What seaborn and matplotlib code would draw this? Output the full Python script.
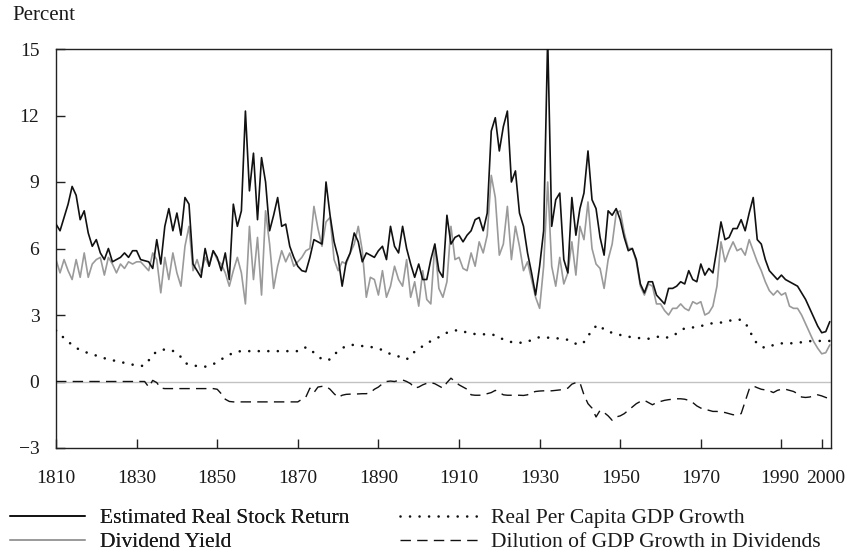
import matplotlib
matplotlib.use("Agg")
import matplotlib.pyplot as plt
import matplotlib.transforms as mtransforms
import seaborn as sns

# Annual observations, 1810-2002 (percent)
years = list(range(1810, 2003))

stock_return = [
    7.1, 6.8, 7.4, 8.0, 8.8, 8.4, 7.3, 7.7, 6.7, 6.1,      # 1810s
    6.4, 5.8, 5.5, 6.0, 5.4, 5.5, 5.6, 5.8, 5.6, 5.9,      # 1820s
    5.9, 5.5, 5.45, 5.4, 5.1, 6.4, 5.3, 7.0, 7.8, 6.8,     # 1830s
    7.6, 6.6, 8.3, 8.0, 5.3, 5.0, 4.7, 6.0, 5.2, 5.9,      # 1840s
    5.6, 5.0, 5.8, 4.6, 8.0, 7.0, 7.7, 12.2, 8.6, 10.3,    # 1850s
    7.3, 10.1, 9.0, 6.8, 7.5, 8.3, 7.0, 7.1, 6.1, 5.6,     # 1860s
    5.2, 5.0, 4.95, 5.6, 6.4, 6.3, 6.2, 9.0, 7.5, 6.3,     # 1870s
    5.6, 4.3, 5.4, 5.8, 6.7, 6.3, 5.4, 5.8, 5.7, 5.6,      # 1880s
    5.9, 6.1, 5.5, 7.0, 6.1, 5.8, 7.0, 6.0, 5.3, 4.7,      # 1890s
    5.3, 4.6, 4.6, 5.5, 6.2, 5.0, 4.7, 7.5, 6.2, 6.5,      # 1900s
    6.6, 6.3, 6.6, 6.8, 7.3, 7.4, 6.8, 7.6, 11.3, 11.9,    # 1910s
    10.4, 11.5, 12.2, 9.0, 9.5, 7.6, 7.0, 5.8, 4.9, 3.9,   # 1920s
    5.2, 6.8, 15.5, 7.0, 8.2, 8.5, 5.5, 4.9, 8.3, 6.6,     # 1930s
    7.8, 8.5, 10.4, 8.2, 7.8, 6.5, 5.7, 7.7, 7.5, 7.8,     # 1940s
    7.3, 6.5, 5.9, 6.0, 5.5, 4.4, 4.0, 4.5, 4.5, 3.9,      # 1950s
    3.7, 3.5, 4.2, 4.2, 4.3, 4.5, 4.4, 5.0, 4.6, 4.5,      # 1960s
    5.3, 4.8, 5.1, 4.9, 6.0, 7.2, 6.4, 6.5, 6.9, 6.9,      # 1970s
    7.3, 6.8, 7.6, 8.3, 6.4, 6.2, 5.5, 5.0, 4.8, 4.6,      # 1980s
    4.8, 4.6, 4.5, 4.4, 4.3, 4.0, 3.7, 3.3, 2.9, 2.5,      # 1990s
    2.2, 2.25, 2.7,                                        # 2000-2002
]

dividend_yield = [
    5.5, 4.9, 5.5, 5.0, 4.6, 5.5, 4.7, 5.8, 4.7, 5.3,      # 1810s
    5.5, 5.6, 4.8, 5.6, 5.3, 4.9, 5.3, 5.1, 5.4, 5.3,      # 1820s
    5.4, 5.4, 5.2, 5.0, 5.8, 5.5, 4.0, 5.6, 4.6, 5.8,      # 1830s
    4.9, 4.3, 6.1, 7.0, 5.0, 5.5, 4.9, 5.6, 5.2, 5.9,      # 1840s
    5.5, 5.3, 4.9, 4.3, 5.0, 5.6, 4.9, 3.5, 7.0, 4.6,      # 1850s
    6.5, 3.9, 7.7, 6.2, 4.2, 5.2, 5.9, 5.4, 5.8, 5.2,      # 1860s
    5.4, 5.6, 5.9, 6.0, 7.9, 6.9, 6.1, 7.2, 7.4, 5.5,      # 1870s
    5.0, 5.4, 5.3, 5.8, 6.2, 7.0, 5.9, 3.8, 4.7, 4.6,      # 1880s
    3.9, 5.0, 3.8, 4.3, 5.2, 4.6, 4.3, 5.5, 3.8, 4.5,      # 1890s
    3.4, 5.0, 3.7, 3.5, 6.2, 4.2, 3.8, 4.5, 7.0, 5.5,      # 1900s
    5.6, 5.1, 5.0, 5.8, 5.2, 6.3, 5.8, 6.6, 9.3, 8.3,      # 1910s
    5.7, 6.2, 7.9, 5.5, 7.0, 6.1, 5.0, 5.4, 4.6, 3.8,      # 1920s
    3.3, 5.2, 9.0, 5.2, 4.3, 5.6, 4.4, 4.9, 6.3, 4.8,      # 1930s
    7.0, 6.4, 8.1, 6.0, 5.3, 5.1, 4.2, 5.5, 6.2, 7.6,      # 1940s
    7.7, 6.7, 6.0, 6.0, 5.4, 4.3, 3.9, 4.4, 4.3, 3.5,      # 1950s
    3.5, 3.2, 3.0, 3.3, 3.3, 3.5, 3.3, 3.2, 3.6, 3.5,      # 1960s
    3.6, 3.0, 3.1, 3.4, 4.3, 6.3, 5.4, 5.9, 6.3, 5.9,      # 1970s
    6.0, 5.7, 6.4, 5.9, 5.4, 5.0, 4.5, 4.1, 3.9, 4.1,      # 1980s
    3.9, 4.0, 3.4, 3.3, 3.3, 3.0, 2.6, 2.2, 1.8, 1.5,      # 1990s
    1.25, 1.3, 1.65,                                       # 2000-2002
]

gdp_growth = [
    2.3, 2.15, 1.95, 1.8, 1.65, 1.52, 1.42, 1.35, 1.28, 1.22,
    1.17, 1.1, 1.05, 1.0, 0.96, 0.92, 0.88, 0.84, 0.8, 0.76,
    0.73, 0.7, 0.72, 0.95, 1.2, 1.35, 1.4, 1.45, 1.45, 1.38,
    1.3, 1.1, 0.85, 0.75, 0.72, 0.7, 0.68, 0.67, 0.7, 0.78,
    0.88, 1.0, 1.1, 1.2, 1.3, 1.35, 1.37, 1.37, 1.37, 1.37,
    1.37, 1.37, 1.37, 1.37, 1.37, 1.37, 1.37, 1.37, 1.37, 1.37,
    1.37, 1.4, 1.55, 1.45, 1.3, 1.15, 1.0, 0.95, 1.0, 1.2,
    1.38, 1.5, 1.6, 1.65, 1.65, 1.62, 1.6, 1.58, 1.56, 1.53,
    1.48, 1.42, 1.32, 1.24, 1.18, 1.13, 1.05, 1.0, 1.15, 1.35,
    1.45, 1.6, 1.72, 1.82, 1.92, 2.0, 2.12, 2.2, 2.25, 2.3,
    2.32, 2.27, 2.2, 2.17, 2.14, 2.13, 2.13, 2.13, 2.13, 2.08,
    1.98, 1.9, 1.83, 1.78, 1.75, 1.75, 1.75, 1.8, 1.87, 1.95,
    2.0, 1.99, 1.98, 1.96, 1.95, 1.94, 1.92, 1.88, 1.82, 1.7,
    1.65, 1.78, 2.05, 2.3, 2.5, 2.55, 2.32, 2.25, 2.2, 2.15,
    2.1, 2.05, 2.02, 2.0, 1.98, 1.95, 1.94, 1.93, 1.95, 2.0,
    2.05, 2.0, 1.98, 2.05, 2.17, 2.3, 2.4, 2.44, 2.44, 2.44,
    2.5, 2.55, 2.6, 2.63, 2.65, 2.66, 2.7, 2.74, 2.77, 2.8,
    2.78, 2.65, 2.35, 1.95, 1.7, 1.57, 1.52, 1.55, 1.65, 1.7,
    1.72, 1.72, 1.72, 1.73, 1.75, 1.77, 1.8, 1.82, 1.83, 1.83,
    1.83, 1.83, 1.83,
]

dilution = [
    0, 0, 0, 0, 0, 0, 0, 0, 0, 0,
    0, 0, 0, 0, 0, 0, 0, 0, 0, 0,
    0, 0, 0, -0.25, 0.05, -0.05, -0.3, -0.32, -0.32, -0.32,
    -0.32, -0.32, -0.32, -0.32, -0.32, -0.32, -0.32, -0.32, -0.32, -0.32,
    -0.35, -0.55, -0.8, -0.9, -0.92, -0.92, -0.92, -0.92, -0.92, -0.92,
    -0.92, -0.92, -0.92, -0.92, -0.92, -0.92, -0.92, -0.92, -0.92, -0.92,
    -0.92, -0.8, -0.7, -0.3, -0.5, -0.25, -0.22, -0.22, -0.35, -0.55,
    -0.72, -0.62, -0.58, -0.57, -0.57, -0.56, -0.55, -0.55, -0.5, -0.35,
    -0.25, -0.1, 0.0, 0.02, 0.0, 0.05, 0.07, 0.0, -0.1, -0.3,
    -0.25, -0.15, -0.08, -0.05, -0.1, -0.2, -0.3, -0.05, 0.15, 0.0,
    -0.15, -0.25, -0.35, -0.6, -0.62, -0.62, -0.6, -0.55, -0.5, -0.4,
    -0.5, -0.6, -0.62, -0.62, -0.62, -0.62, -0.63, -0.6, -0.5, -0.45,
    -0.43, -0.42, -0.42, -0.42, -0.4, -0.38, -0.35, -0.3, -0.12, -0.05,
    -0.05, -0.6, -1.0, -1.2, -1.6, -1.3, -1.4, -1.55, -1.75, -1.6,
    -1.55, -1.45, -1.3, -1.15, -1.0, -0.9, -0.85, -0.95, -1.05, -0.95,
    -0.9, -0.85, -0.82, -0.8, -0.78, -0.78, -0.8, -0.85, -0.95, -1.1,
    -1.2, -1.25, -1.3, -1.35, -1.35, -1.38, -1.4, -1.45, -1.5, -1.5,
    -1.45, -0.9, -0.35, -0.2, -0.28, -0.35, -0.38, -0.42, -0.5, -0.4,
    -0.35, -0.35, -0.4, -0.45, -0.55, -0.7, -0.72, -0.7, -0.65, -0.6,
    -0.65, -0.72, -0.78,
]

x_ticks = [1810, 1830, 1850, 1870, 1890, 1910, 1930, 1950, 1970, 1990, 2000]
y_ticks = [-3, 0, 3, 6, 9, 12, 15]

sns.set_style("white")
plt.rcParams["font.family"] = ["Liberation Serif", "DejaVu Serif"]
plt.rcParams["font.size"] = 14

TEXT = "#1a1a1a"
INK = "#111111"

fig = plt.figure(figsize=(8.52, 5.54), dpi=100)
ax = fig.add_axes([56 / 852, 1 - 448 / 554, (831 - 56) / 852, (448 - 49) / 554])

ax.axhline(0, color="#c2c2c2", lw=1.0, zorder=1)

sns.lineplot(x=years, y=dividend_yield, ax=ax, color="#9a9a9a", lw=1.2,
             label="Dividend Yield", zorder=2)
sns.lineplot(x=years, y=stock_return, ax=ax, color=INK, lw=1.2,
             label="Estimated Real Stock Return", zorder=3)
sns.lineplot(x=years, y=gdp_growth, ax=ax, color=INK, lw=1.9,
             linestyle=(0, (0.01, 3.6)), dash_capstyle="round",
             label="Real Per Capita GDP Growth", zorder=3)
sns.lineplot(x=years, y=dilution, ax=ax, color=INK, lw=1.0,
             linestyle=(0, (7.5, 4.5)),
             label="Dilution of GDP Growth in Dividends", zorder=3)

ax.set_xlim(1810, 2002.3)
ax.set_ylim(-3, 15)
ax.set_xticks(x_ticks)
ax.set_yticks(y_ticks)
ax.set_yticklabels(["\u22123" if v == -3 else str(v) for v in y_ticks])
ax.tick_params(axis="both", direction="in", length=6.5, width=1.0,
               color="#222222", labelsize=14, labelcolor=TEXT)
ax.tick_params(axis="x", pad=16, bottom=True, top=False)
ax.tick_params(axis="y", pad=12, left=True, right=False)
for side in ["left", "right", "top", "bottom"]:
    ax.spines[side].set_visible(True)
    ax.spines[side].set_color("#222222")
    ax.spines[side].set_linewidth(1.0)
ax.set_xlabel("")
ax.set_ylabel("")

# nudge the closely spaced 1990 / 2000 labels apart a little
xlabels = ax.get_xticklabels()
for lbl, val in zip(xlabels, x_ticks):
    if val == 1990:
        lbl.set_transform(lbl.get_transform() + mtransforms.ScaledTranslation(-2 / 100, 0, fig.dpi_scale_trans))
    elif val == 2000:
        lbl.set_transform(lbl.get_transform() + mtransforms.ScaledTranslation(4 / 100, 0, fig.dpi_scale_trans))

fig.text(12 / 852, 1 - 16 / 554, "Percent", fontsize=15, va="center",
         ha="left", color=TEXT)

handles, labels = ax.get_legend_handles_labels()
ax.get_legend().remove()
hmap = dict(zip(labels, handles))

legend_style = dict(frameon=False, loc="upper left", borderaxespad=0,
                    borderpad=0, labelspacing=0.2, fontsize=15.5,
                    labelcolor=TEXT)
left_col = ["Estimated Real Stock Return", "Dividend Yield"]
right_col = ["Real Per Capita GDP Growth", "Dilution of GDP Growth in Dividends"]
leg1 = fig.legend([hmap[k] for k in left_col], left_col,
                  bbox_to_anchor=(10 / 852, 1 - 508 / 554),
                  handlelength=3.5, handletextpad=0.7, **legend_style)
fig.add_artist(leg1)
fig.legend([hmap[k] for k in right_col], right_col,
           bbox_to_anchor=(400 / 852, 1 - 508 / 554),
           handlelength=3.7, handletextpad=0.55, **legend_style)

fig.savefig("out.png", dpi=100)
